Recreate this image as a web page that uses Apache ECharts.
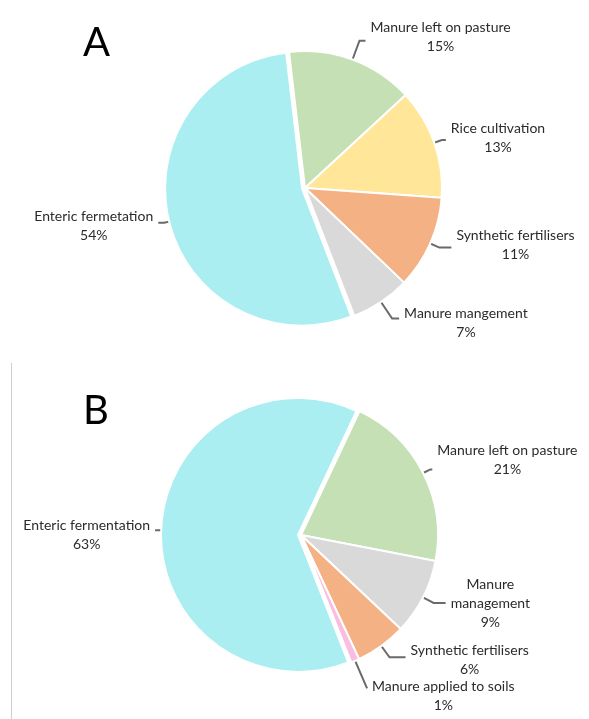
<!DOCTYPE html>
<html>
<head>
<meta charset="utf-8">
<title>Agricultural emissions by source</title>
<script src="https://cdn.jsdelivr.net/npm/echarts@6/dist/echarts.min.js"></script>
<style>
  html, body { margin: 0; padding: 0; background: #fff; }
  #chart { width: 589px; height: 719px; }
</style>
</head>
<body>
<div id="chart"></div>
<script>
// Panel A
const catsA = ['Manure left on pasture', 'Rice cultivation', 'Synthetic fertilisers', 'Manure mangement', 'Enteric fermetation'];
const valsA = [15, 13, 11, 7, 54];

// Panel B
const catsB = ['Manure left on pasture', 'Manure management', 'Synthetic fertilisers', 'Manure applied to soils', 'Enteric fermentation'];
const valsB = [21, 9, 6, 1, 63];

const panelTitles = ['A', 'B'];

// slice colours by source
const sourceColors = {
  'Enteric': '#abeef2',
  'Manure left': '#c5e0b4',
  'Rice': '#ffe699',
  'Synthetic': '#f4b183',
  'Manure man': '#d9d9d9',
  'Manure applied': '#f9bde0'
};
function colorFor(name) {
  for (const k in sourceColors) if (name.indexOf(k) === 0) return sourceColors[k];
  return '#ccc';
}

// leader line [length, length2] and vertical nudge of each label
const leaderA = [[20, 6], [8, 4], [10, 12], [20, 7], [5, 6]];
const leaderB = [[8, 2], [12, 12], [14, 16], [30, 0], [3, 3]];
const nudgeA = [-4, -2, -3, 4, 3];
const nudgeB = [-9, 1, 3, 8, 5];
const wrapped = { 'Manure management': 'Manure\nmanagement' };

const FONT = 'Lato';

function labelText(p) {
  const txt = (wrapped[p.name] || p.name).split('\n').map(l => '{t|' + l + '}').join('\n');
  return txt + '\n{t|' + p.value + '%}';
}

function buildData(cats, vals, leader, nudge) {
  return cats.map((name, i) => {
    const n = nudge[i];
    return {
      name: name,
      value: vals[i],
      selected: name.indexOf('Enteric') === 0,
      itemStyle: { color: colorFor(name) },
      label: { padding: n >= 0 ? [n * 2, 0, 0, 0] : [0, 0, -n * 2, 0] },
      labelLine: { length: leader[i][0], length2: leader[i][1] }
    };
  });
}

function pieSeries(cats, vals, leader, nudge, center, startAngle) {
  return {
    type: 'pie',
    left: 0, top: 0, width: 900, height: 719,
    center: center,
    radius: 137,
    startAngle: startAngle,
    clockwise: true,
    avoidLabelOverlap: false,
    labelLayout: { hideOverlap: false },
    selectedMode: 'single',
    selectedOffset: 3,
    silent: true,
    itemStyle: { borderColor: '#ffffff', borderWidth: 2 },
    select: { itemStyle: { borderColor: '#ffffff', borderWidth: 2 } },
    emphasis: { disabled: true },
    label: {
      show: true,
      position: 'outside',
      bleedMargin: 0,
      formatter: labelText,
      rich: {
        t: { align: 'center', fontFamily: FONT, fontSize: 14, lineHeight: 19, color: '#2b2b2b' }
      }
    },
    labelLine: {
      show: true,
      smooth: false,
      minTurnAngle: 30,
      lineStyle: { color: '#6a6a6a', width: 2 }
    },
    data: buildData(cats, vals, leader, nudge)
  };
}

const chart = echarts.init(document.getElementById('chart'), null, { renderer: 'canvas' });
chart.setOption({
  backgroundColor: '#ffffff',
  animation: false,
  title: [
    { text: panelTitles[0], left: 78, top: 18, textStyle: { fontFamily: FONT, fontSize: 40, fontWeight: 'normal', color: '#000' } },
    { text: panelTitles[1], left: 78, top: 386, textStyle: { fontFamily: FONT, fontSize: 40, fontWeight: 'normal', color: '#000' } }
  ],
  graphic: [
    { type: 'line', shape: { x1: 11.5, y1: 363, x2: 11.5, y2: 719 }, style: { stroke: '#cfcfcf', lineWidth: 1 }, silent: true }
  ],
  series: [
    pieSeries(catsA, valsA, leaderA, nudgeA, [305, 188], 96.7),
    pieSeries(catsB, valsB, leaderB, nudgeB, [301, 535], 64.7)
  ]
});
</script>
</body>
</html>
